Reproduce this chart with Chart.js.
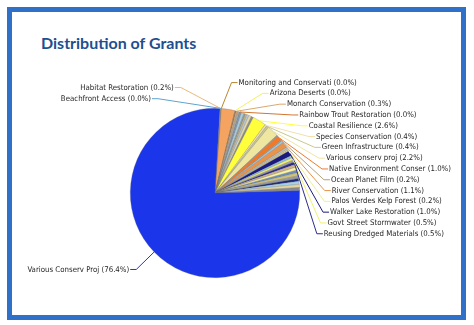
<!DOCTYPE html>
<html>
<head>
<meta charset="utf-8">
<script src="https://cdn.jsdelivr.net/npm/chart.js@4.4.1/dist/chart.umd.min.js"></script>
<style>
  html, body { margin: 0; padding: 0; background: #ffffff; }
  #wrap { position: relative; width: 474px; height: 325px; overflow: hidden; }
  #frame { position: absolute; left: 7px; top: 7px; width: 459px; height: 313px; box-sizing: border-box; border: 5px solid #2f70c8; }
  #title { position: absolute; left: 41px; top: 33px; font: 700 16px/20px Lato, "Open Sans", sans-serif; color: #1d4f91; white-space: nowrap; }
  canvas { position: absolute; left: 0; top: 0; }
</style>
</head>
<body>
<div id="wrap">
  <div id="frame"></div>
  <div id="title">Distribution of Grants</div>
  <canvas id="c" width="474" height="325"></canvas>
</div>
<script>
// ---- data (percent of total grants), clockwise from the top ----
// empty category names are slices whose labels are not shown in the original
const categories = [
  'Habitat Restoration', 'Beachfront Access', 'Monitoring and Conservati', '',
  'Arizona Deserts', '', 'Monarch Conservation', '', 'Rainbow Trout Restoration',
  '', '', '', '', '', '', '',
  'Coastal Resilience', 'Species Conservation', 'Green Infrastructure', 'Various conserv proj',
  '', 'Native Environment Conser', 'Ocean Planet Film', '', 'River Conservation',
  '', '', 'Palos Verdes Kelp Forest', 'Walker Lake Restoration', '', 'Govt Street Stormwater',
  '', 'Reusing Dredged Materials', '', '', '', '', '', '', '', '', '',
  'Various Conserv Proj'
];
const values = [
  0.2, 0.03, 0.03, 2.6,
  0.03, 0.2, 0.3, 0.4, 0.03,
  0.3, 0.5, 0.3, 0.3, 0.4, 0.5, 0.4,
  2.6, 0.4, 0.4, 2.2,
  0.2, 1.0, 0.2, 0.4, 1.1,
  0.3, 0.3, 0.2, 1.0, 0.4, 0.5,
  0.4, 0.5, 0.5, 0.6, 0.5, 0.6, 0.5, 0.5, 0.6, 0.6, 0.58,
  76.4
];
const sliceColors = [
  '#e9b97f', '#5fa3d0', '#b8862e', '#f4a460',
  '#f2f060', '#b07040', '#d9a86c', '#a8a8a8', '#d2762f',
  '#7f9fbf', '#a9cfe0', '#9a9a9a', '#c8bd78', '#b9c9d6', '#e6d9a8', '#8c8c8c',
  '#ffff3c', '#f3dfae', '#c6c98e', '#efe6a0',
  '#9e9e9e', '#f07a2a', '#b0a27a', '#9cc8e6', '#e8944a',
  '#b8c8d8', '#d8cf88', '#eeee99', '#1a1a80', '#8fc3e3', '#f0f070',
  '#a0a0a0', '#2c2c8c', '#d2b48c', '#f8f3a0', '#6b8fb8', '#cfc27a', '#9a9a9a', '#1e2a78', '#a4d0ea', '#e5d5a0', '#8a8a8a',
  '#1b36ea'
];
const leftSideLabels = ['Habitat Restoration', 'Beachfront Access'];

const leaderLabels = {
  id: 'leaderLabels',
  afterDraw(chart) {
    const ctx = chart.ctx;
    const meta = chart.getDatasetMeta(0);
    const total = values.reduce((a, b) => a + b, 0);
    const items = [];
    meta.data.forEach((arc, i) => {
      if (!categories[i]) return;
      const p = arc.getProps(['x', 'y', 'startAngle', 'endAngle', 'outerRadius'], true);
      const mid = (p.startAngle + p.endAngle) / 2;
      const th = mid + Math.PI / 2; // angle from top, clockwise
      const sn = Math.sin(th);
      const left = leftSideLabels.includes(categories[i]) || sn < 0;
      const rx = p.outerRadius + 32, ry = p.outerRadius + 28;
      items.push({
        i, left, th: ((th % (2 * Math.PI)) + 2 * Math.PI) % (2 * Math.PI),
        x0: p.x + Math.cos(mid) * p.outerRadius,
        y0: p.y + Math.sin(mid) * p.outerRadius,
        cx: p.x, cy: p.y, rx, ry,
        ny: p.y - Math.cos(th) * ry,
        text: categories[i] + ' (' + (values[i] / total * 100).toFixed(1) + '%)'
      });
    });
    const gap = 10.8;
    const right = items.filter(d => !d.left).sort((a, b) => a.th - b.th);
    let prev = -1e9;
    right.forEach(d => { d.y = Math.max(d.ny + 2, prev + gap); prev = d.y; });
    const leftTop = items.filter(d => d.left && leftSideLabels.includes(categories[d.i]));
    prev = -1e9;
    leftTop.forEach(d => { d.y = Math.max(d.ny + 7, prev + 11.2); prev = d.y; });
    items.filter(d => d.left && !leftSideLabels.includes(categories[d.i])).forEach(d => { d.y = d.ny - 2; });

    ctx.save();
    ctx.font = '7.8px "DejaVu Sans Condensed", "DejaVu Sans", sans-serif';
    ctx.textBaseline = 'middle';
    ctx.lineWidth = 1;
    items.forEach(d => {
      const dy = (d.y - d.cy) / d.ry;
      const dx = d.rx * Math.sqrt(Math.max(0, 1 - dy * dy));
      const tx = d.left ? d.cx - dx : d.cx + dx;
      const s = d.left ? 1 : -1;
      ctx.strokeStyle = sliceColors[d.i];
      ctx.beginPath();
      ctx.moveTo(d.x0, d.y0);
      ctx.lineTo(tx + s * 7, d.y);
      ctx.lineTo(tx + s * 1, d.y);
      ctx.stroke();
      ctx.fillStyle = '#262626';
      ctx.textAlign = d.left ? 'right' : 'left';
      ctx.fillText(d.text, tx, d.y);
    });
    ctx.restore();
  }
};

new Chart(document.getElementById('c'), {
  type: 'pie',
  data: {
    labels: categories,
    datasets: [{
      data: values,
      backgroundColor: sliceColors,
      borderColor: 'rgba(110,110,110,0.55)',
      borderWidth: 0.5
    }]
  },
  options: {
    responsive: false,
    animation: false,
    rotation: 3.4,
    layout: { padding: { left: 130, top: 108, right: 174, bottom: 47 } },
    plugins: { legend: { display: false }, tooltip: { enabled: false }, title: { display: false } }
  },
  plugins: [leaderLabels]
});
</script>
</body>
</html>
